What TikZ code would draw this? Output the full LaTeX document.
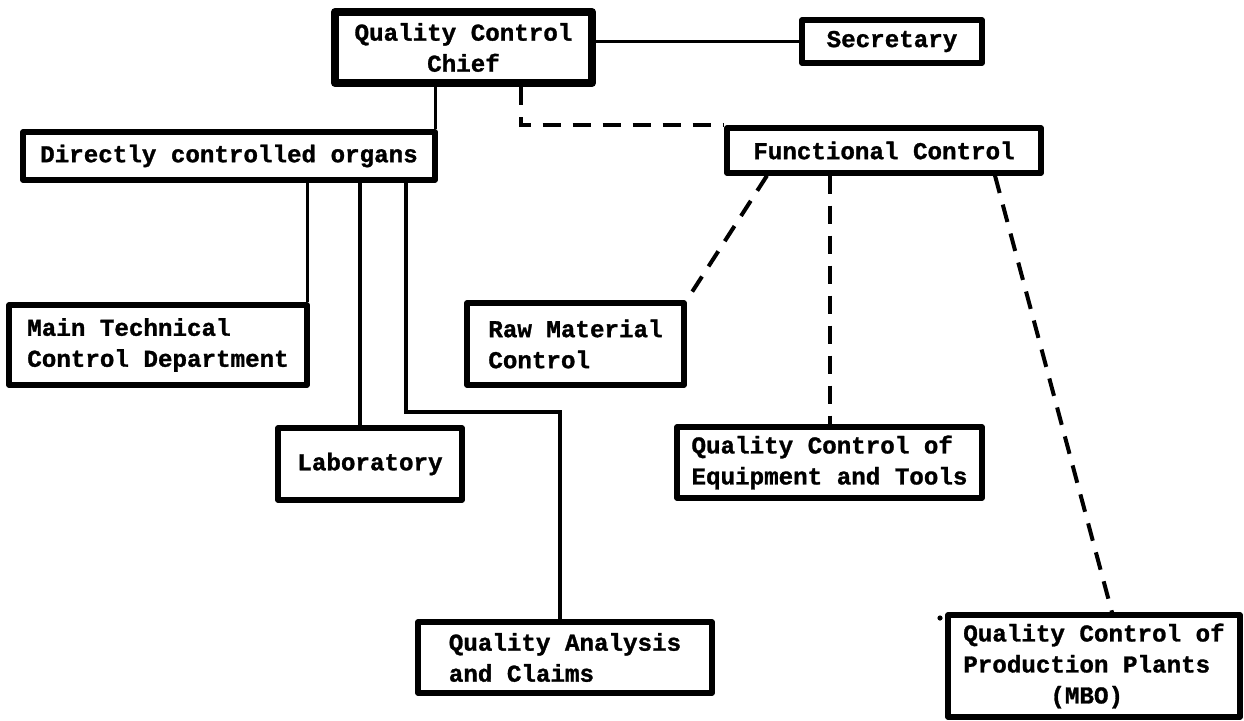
\documentclass[tikz,border=0pt]{standalone}
\usepackage{fontspec}
\newfontfamily\twfont[BoldFeatures={FakeBold=1.2}]{Liberation Mono}
\begin{document}
\begin{tikzpicture}[x=0.5pt,y=-0.5pt,
  box/.style={draw, line width=2.6pt, inner sep=0pt, line join=round,
    font=\twfont\bfseries\fontsize{12.1}{15.5}\selectfont},
  chiefbox/.style={box, line width=4pt},
  link/.style={line width=1.8pt},
  dlink/.style={line width=2pt, dash pattern=on 9pt off 6pt}]
\useasboundingbox (0,0) rectangle (1244,720);

% boxes
\node[chiefbox, minimum width=128.5pt, minimum height=35.5pt, align=center] (chief) at (463.5,47.5) {Quality Control\\Chief};
\node[box, minimum width=90pt, minimum height=21.5pt] (sec) at (892,41.5) {Secretary};
\node[box, minimum width=206pt, minimum height=24pt, align=left] (direct) at (229,156) {Directly controlled organs};
\node[box, minimum width=157pt, minimum height=22.5pt] (func) at (884,150.5) {Functional Control};
\node[box, minimum width=149pt, minimum height=40pt, align=left] (mtcd) at (158,345) {Main Technical\\Control Department};
\node[box, minimum width=92pt, minimum height=36pt] (lab) at (370,464) {Laboratory};
\node[box, minimum width=147pt, minimum height=35.5pt, align=left] (qa) at (565,657.5) {Quality Analysis\\and Claims};
\node[box, minimum width=108.5pt, minimum height=41pt, align=left] (raw) at (575.5,344) {Raw Material\\Control};
\node[box, minimum width=152.5pt, minimum height=35.5pt, align=left] (equip) at (829.5,462.5) {Quality Control of\\Equipment and Tools};
\node[box, minimum width=146pt, minimum height=51pt, align=left] (mbo) at (1094,666) {Quality Control of\\Production Plants\\\phantom{000000}(MBO)};

% solid lines of direct subordination
\draw[link] (chief.east |- sec.west) -- (sec.west);
\draw[link] ([xshift=-1pt]direct.north east) -- ([xshift=-1pt]direct.north east |- chief.south);
\draw[link] ([xshift=-1pt]mtcd.north east) -- ([xshift=-1pt]mtcd.north east |- direct.south);
\draw[link] (direct.south -| 360,0) -- (lab.north -| 360,0);
\coordinate (qabend) at (560,412);
\draw[link] (direct.south -| 406,0) |- (qabend) -- (qa.north -| qabend);

% dashed lines of functional control
\draw[dlink] (chief.south -| 521,0) |- (func.north west);
\draw[dlink] (func.south -| 767,0) -- (raw.north east);
\draw[dlink] (func.south -| equip.north) -- (equip.north);
\draw[dlink] (func.south -| 995,0) -- ([xshift=9pt]mbo.north);

% stray ink mark
\fill (940,618) circle (1.3pt);
\end{tikzpicture}
\end{document}
